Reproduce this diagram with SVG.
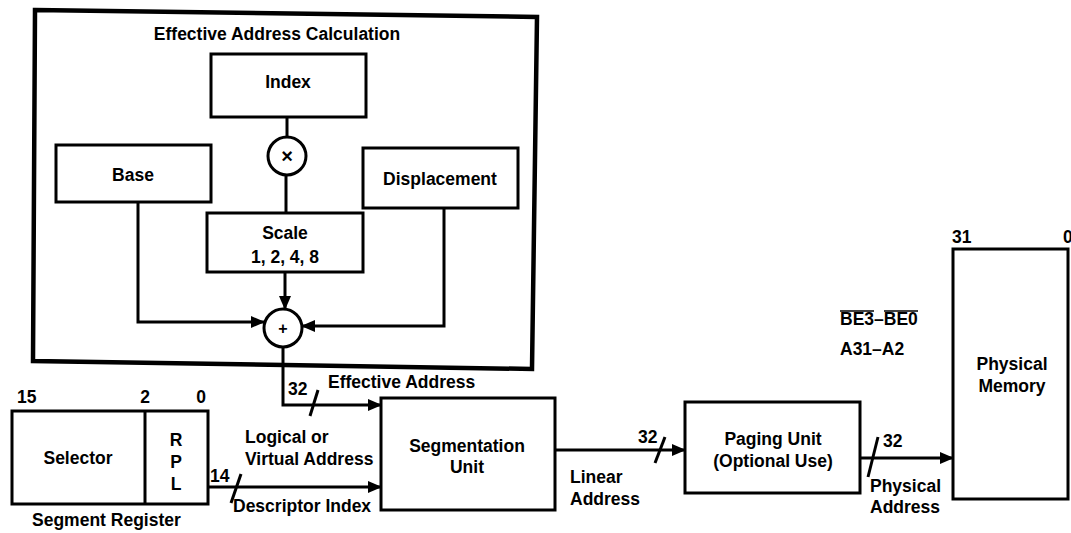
<svg xmlns="http://www.w3.org/2000/svg" width="1071" height="533" viewBox="0 0 1071 533">
<defs>
<marker id="ah" markerWidth="14" markerHeight="12" refX="13" refY="6" orient="auto" markerUnits="userSpaceOnUse">
<path d="M0,0 L14,6 L0,12 z" fill="#000"/>
</marker>
<style>
text{font-family:"Liberation Sans",Arial,Helvetica,sans-serif;font-weight:bold;font-size:17.5px;fill:#000}
.c{text-anchor:middle}
.box{fill:#fff;stroke:#000;stroke-width:3}
.ln{fill:none;stroke:#000;stroke-width:3}
.ar{fill:none;stroke:#000;stroke-width:3;marker-end:url(#ah)}
</style>
</defs>
<rect width="1071" height="533" fill="#fff"/>

<g id="ea-calc">
<polygon points="35,10 537,17 532,369 33,361" fill="none" stroke="#000" stroke-width="4.5" stroke-linejoin="miter"/>
<text class="c" x="277" y="40">Effective Address Calculation</text>
</g>

<g id="connectors">
<line class="ln" x1="287" y1="117" x2="287" y2="137"/>
<line class="ln" x1="286" y1="175" x2="286" y2="213"/>
<line class="ar" x1="285" y1="272" x2="285" y2="309"/>
<polyline class="ar" points="138,202 138,322 264,322"/>
<polyline class="ar" points="444,208 444,326 302,326"/>
<polyline class="ar" points="283,347 283,405 381,405"/>
<line class="ln" x1="310" y1="416" x2="318" y2="390"/>
<line class="ar" x1="208" y1="487" x2="381" y2="487"/>
<line class="ln" x1="231" y1="503" x2="241" y2="474"/>
<line class="ar" x1="555" y1="450" x2="685" y2="450"/>
<line class="ln" x1="655" y1="463" x2="665" y2="437"/>
<line class="ar" x1="860" y1="458" x2="953" y2="458"/>
<line class="ln" x1="868" y1="477" x2="878" y2="437"/>
<text x="288" y="395">32</text>
<text x="328" y="388">Effective Address</text>
<text x="210" y="482">14</text>
<text x="245" y="443">Logical or</text>
<text x="245" y="465">Virtual Address</text>
<text x="233" y="512">Descriptor Index</text>
<text x="638" y="443">32</text>
<text x="570" y="483">Linear</text>
<text x="570" y="505">Address</text>
<text x="883" y="447">32</text>
<text x="870" y="492">Physical</text>
<text x="870" y="513">Address</text>
</g>

<g id="index">
<rect class="box" x="211" y="54" width="155" height="63"/>
<text class="c" x="288" y="88">Index</text>
</g>
<g id="multiply">
<circle class="box" cx="287" cy="156" r="19"/>
<text class="c" x="287" y="163" style="font-size:20px">×</text>
</g>
<g id="base">
<rect class="box" x="56" y="145" width="155" height="57"/>
<text class="c" x="133" y="181">Base</text>
</g>
<g id="displacement">
<rect class="box" x="363" y="148" width="155" height="60"/>
<text class="c" x="440" y="185">Displacement</text>
</g>
<g id="scale">
<rect class="box" x="207" y="213" width="156" height="59"/>
<text class="c" x="285" y="239">Scale</text>
<text class="c" x="285" y="263">1, 2, 4, 8</text>
</g>
<g id="adder">
<circle class="box" cx="283" cy="328" r="19"/>
<text class="c" x="283" y="334" style="font-size:16px">+</text>
</g>

<g id="segment-register">
<rect class="box" x="12" y="411" width="196" height="93"/>
<line class="ln" x1="145" y1="411" x2="145" y2="504"/>
<text x="17" y="403">15</text>
<text class="c" x="145" y="403">2</text>
<text class="c" x="201" y="403">0</text>
<text class="c" x="78" y="464">Selector</text>
<text class="c" x="176" y="446">R</text>
<text class="c" x="176" y="468">P</text>
<text class="c" x="176" y="490">L</text>
<text x="32" y="526">Segment Register</text>
</g>

<g id="segmentation-unit">
<rect class="box" x="381" y="398" width="174" height="112"/>
<text class="c" x="467" y="452">Segmentation</text>
<text class="c" x="467" y="473">Unit</text>
</g>

<g id="paging-unit">
<rect class="box" x="685" y="402" width="175" height="91"/>
<text class="c" x="773" y="445">Paging Unit</text>
<text class="c" x="773" y="467">(Optional Use)</text>
</g>

<g id="physical-memory">
<rect class="box" x="953" y="249" width="115" height="250"/>
<text x="952" y="243">31</text>
<text x="1063" y="243">0</text>
<text class="c" x="1012" y="370">Physical</text>
<text class="c" x="1012" y="392">Memory</text>
</g>

<g id="bus-signals">
<text x="840" y="325">BE3–BE0</text>
<line x1="840" y1="311" x2="874" y2="311" stroke="#000" stroke-width="1.5"/>
<line x1="884" y1="311" x2="918" y2="311" stroke="#000" stroke-width="1.5"/>
<text x="840" y="355">A31–A2</text>
</g>
</svg>
